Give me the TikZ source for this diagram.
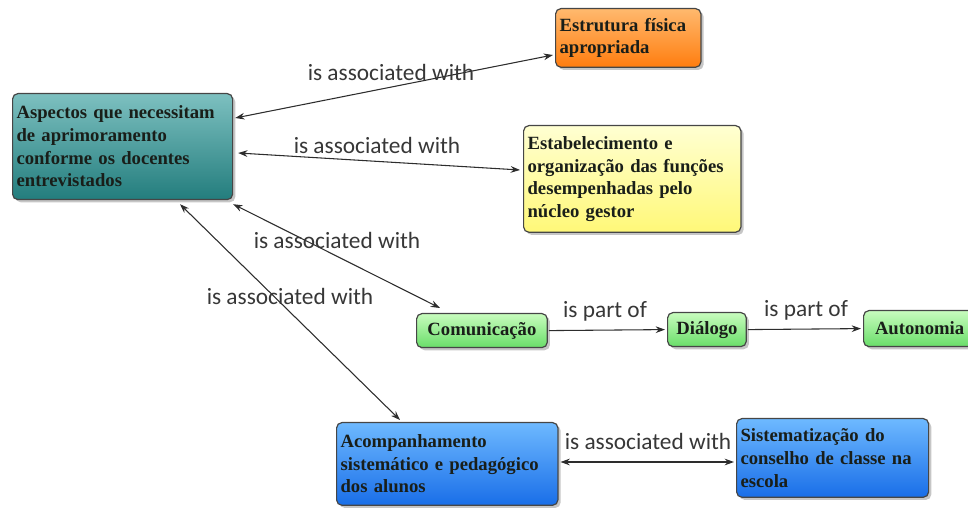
\documentclass[tikz,border=0pt]{standalone}
\usepackage{fontspec}
\setmainfont{Liberation Serif}
\newfontfamily\labfont{Carlito}
\usetikzlibrary{shadows,calc,arrows.meta}
\definecolor{tealtop}{RGB}{125,192,192}
\definecolor{tealbot}{RGB}{35,125,125}
\definecolor{orgtop}{RGB}{255,185,110}
\definecolor{orgbot}{RGB}{255,125,15}
\definecolor{yeltop}{RGB}{255,255,210}
\definecolor{yelbot}{RGB}{255,248,120}
\definecolor{grntop}{RGB}{200,252,190}
\definecolor{grnbot}{RGB}{105,222,105}
\definecolor{blutop}{RGB}{110,185,255}
\definecolor{blubot}{RGB}{25,110,232}
\definecolor{boxline}{RGB}{70,70,70}
\definecolor{boxtext}{RGB}{25,30,25}
\definecolor{linkcol}{RGB}{45,45,45}
\definecolor{labcol}{RGB}{55,55,55}
\tikzset{
  cbox/.style={draw=boxline, line width=0.9pt, rounded corners=4pt, anchor=north west,
    align=left, inner xsep=3pt, inner ysep=2pt, text=boxtext,
    font=\bfseries\fontsize{14}{17}\selectfont,
    drop shadow={shadow xshift=2pt, shadow yshift=-2pt, opacity=0.45}},
  sbox/.style={cbox, align=center},
  link/.style={draw=linkcol, line width=0.8pt, {Stealth[length=7pt,width=5pt]}-{Stealth[length=7pt,width=5pt]}},
  olink/.style={draw=linkcol, line width=0.8pt, -{Stealth[length=7pt,width=5pt]}},
  lab/.style={text=labcol, font=\labfont\fontsize{17.5}{20}\selectfont, inner sep=0pt}
}
\begin{document}
\begin{tikzpicture}[x=0.75pt,y=-0.75pt]
\useasboundingbox (0,0) rectangle (968,509);
% nodes
\node[cbox, top color=tealtop, bottom color=tealbot, text width=159pt, minimum height=79.5pt] (asp) at (12,93)
  {Aspectos que necessitam\\de aprimoramento\\conforme os docentes\\entrevistados};
\node[cbox, top color=orgtop, bottom color=orgbot, text width=103pt, minimum height=44pt] (est) at (555,8)
  {Estrutura física\\apropriada};
\node[cbox, top color=yeltop, bottom color=yelbot, text width=157pt, minimum height=80pt] (org) at (523,125)
  {Estabelecimento e\\organização das funções\\desempenhadas pelo\\núcleo gestor};
\node[sbox, top color=grntop, bottom color=grnbot, minimum width=98pt, minimum height=25.5pt] (com) at (416,313)
  {Comunicação};
\node[sbox, top color=grntop, bottom color=grnbot, minimum width=59pt, minimum height=25.5pt] (dia) at (667,312)
  {Diálogo};
\node[sbox, top color=grntop, bottom color=grnbot, minimum width=84pt, minimum height=27pt] (aut) at (863,310)
  {Autonomia};
\node[cbox, top color=blutop, bottom color=blubot, text width=160pt, minimum height=62pt] (aco) at (336,422)
  {Acompanhamento\\sistemático e pedagógico\\dos alunos};
\node[cbox, top color=blutop, bottom color=blubot, text width=138pt, minimum height=59pt] (sis) at (736,418)
  {Sistematização do\\conselho de classe na\\escola};
% connectors
\draw[link] ($(asp.north east)+(2,25)$) -- ($(est.north west)+(-2,47)$);
\draw[link] ($(asp.north east)+(5,60)$) -- ($(org.north west)+(-3,45)$);
\draw[link] ($(asp.south east)+(0,4)$) -- ($(com.north west)+(24,-5)$);
\draw[link] ($(asp.south west)+(168,4)$) -- ($(aco.north west)+(64,-2)$);
\draw[olink] ($(com.east)+(1,0)$) -- ($(dia.west)+(-2,0)$);
\draw[olink] ($(dia.east)+(1,0)$) -- ($(aut.west)+(-2,0)$);
\draw[link] ($(aco.north east)+(2,40)$) -- ($(sis.north west)+(-2,44)$);
% labels
\node[lab] (l1) at (391,72) {is associated with};
\node[lab] (l2) at (377,145) {is associated with};
\node[lab] (l3) at (337,240) {is associated with};
\node[lab] (l4) at (290,296) {is associated with};
\node[lab] (l5) at (605,311) {is part of};
\node[lab] (l6) at (806,310) {is part of};
\node[lab] (l7) at (648,441) {is associated with};
\end{tikzpicture}
\end{document}
